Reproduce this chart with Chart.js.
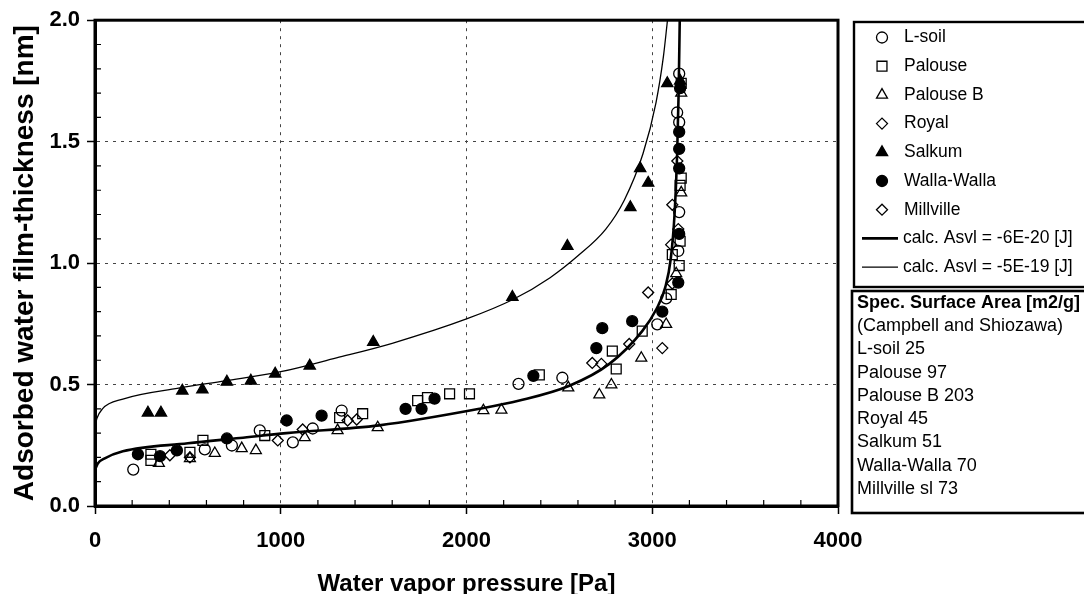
<!DOCTYPE html>
<html>
<head>
<meta charset="utf-8">
<title>Adsorbed water film-thickness</title>
<script src="https://cdn.jsdelivr.net/npm/chart.js@4.4.0/dist/chart.umd.min.js"></script>
<style>
  html, body { margin: 0; padding: 0; background: #fff; }
  #wrap { width: 1084px; height: 594px; }
</style>
</head>
<body>
<div id="wrap"><canvas id="c" width="1084" height="594"></canvas></div>
<script>
const FONT = '"Liberation Sans", Arial, sans-serif';

// axis ticks
const xMajorTicks = [0, 1000, 2000, 3000, 4000];
const yMajorTicks = [0, 0.5, 1.0, 1.5, 2.0];

// measured points [pressure Pa, thickness nm]
const lSoil = [[206,0.15],[591,0.233],[737,0.249],[887,0.311],[1065,0.262],[1172,0.319],[1328,0.393],
  [2280,0.503],[2516,0.528],[3027,0.748],[3075,0.855],[3140,1.05],[3145,1.21],[3145,1.58],[3134,1.62],[3145,1.78]];
const palouse = [[301,0.213],[301,0.188],[511,0.221],[581,0.27],[914,0.29],[1317,0.364],[1441,0.38],[1737,0.434],
  [1790,0.446],[1909,0.462],[2016,0.462],[2392,0.54],[2785,0.638],[2806,0.564],[2946,0.72],[3102,0.871],
  [3108,1.035],[3145,0.99],[3150,1.09],[3150,1.32],[3156,1.35],[3156,1.74]];
const palouseB = [[344,0.176],[511,0.196],[645,0.217],[790,0.237],[866,0.229],[1129,0.282],[1306,0.311],[1522,0.323],
  [2091,0.393],[2188,0.395],[2548,0.487],[2715,0.458],[2780,0.499],[2941,0.609],[3075,0.748],[3129,0.957],
  [3156,1.29],[3156,1.70]];
const royal = [[403,0.209],[984,0.27],[1360,0.352],[2677,0.589],[2876,0.667],[3054,0.65],[3108,0.916],[3108,1.24]];
const salkum = [[285,0.384],[355,0.384],[470,0.474],[578,0.479],[710,0.511],[839,0.515],[970,0.544],[1156,0.577],
  [1498,0.675],[2247,0.86],[2543,1.07],[2882,1.23],[2935,1.39],[2978,1.33],[3081,1.74],[3150,1.75]];
const wallaWalla = [[231,0.213],[350,0.205],[441,0.229],[710,0.278],[1032,0.352],[1220,0.372],[1672,0.40],[1758,0.40],
  [1828,0.442],[2360,0.536],[2699,0.65],[2731,0.732],[2892,0.761],[3054,0.80],[3140,0.92],[3145,1.12],
  [3145,1.39],[3145,1.47],[3145,1.54],[3150,1.72]];
const millville = [[511,0.20],[1118,0.315],[1409,0.356],[2726,0.585],[2978,0.879],[3102,1.076],[3140,1.14],[3135,1.42]];

// calculated curves
const curveA6e20 = [[1,0.15],[15,0.175],[50,0.195],[150,0.225],[500,0.258],[780,0.28],[1030,0.30],[1530,0.332],
  [2070,0.40],[2285,0.434],[2554,0.495],[2769,0.585],[2946,0.72],[3022,0.81],[3070,0.90],[3100,1.02],
  [3120,1.20],[3134,1.45],[3142,1.70],[3148,2.0]];
const curveA5e19 = [[1,0.33],[10,0.36],[40,0.40],[150,0.44],[450,0.485],[700,0.515],[1000,0.553],[1300,0.61],
  [1600,0.67],[2000,0.77],[2250,0.85],[2450,0.94],[2600,1.03],[2750,1.14],[2850,1.26],[2950,1.45],
  [3020,1.66],[3060,1.85],[3082,2.0]];

const curveNames = ['calc. Asvl = -6E-20 [J]', 'calc. Asvl = -5E-19 [J]'];
const areaTitle = 'Spec. Surface Area [m2/g]';
const areaLines = ['(Campbell and Shiozawa)', 'L-soil 25', 'Palouse 97', 'Palouse B 203', 'Royal 45',
  'Salkum 51', 'Walla-Walla 70', 'Millville sl 73'];

const toXY = arr => arr.map(p => ({ x: p[0], y: p[1] }));
const isMajorX = v => xMajorTicks.includes(Math.round(v));
const isMajorY = v => yMajorTicks.some(m => Math.abs(m - v) < 1e-6);

function marker(label, data, style, radius, filled) {
  return {
    label, data: toXY(data), showLine: false,
    pointStyle: style, pointRadius: radius, pointHoverRadius: radius, pointBorderWidth: 1.3,
    borderColor: '#000', backgroundColor: filled ? '#000' : 'rgba(0,0,0,0)'
  };
}
function curve(label, data, width) {
  return {
    label, data: toXY(data), showLine: true, pointRadius: 0, pointHoverRadius: 0,
    borderColor: '#000', borderWidth: width, cubicInterpolationMode: 'monotone', fill: false
  };
}

const datasets = [
  marker('L-soil', lSoil, 'circle', 5.5, false),
  marker('Palouse', palouse, 'rect', 7, false),
  marker('Palouse B', palouseB, 'triangle', 6.3, false),
  marker('Royal', royal, 'rectRot', 5.5, false),
  marker('Salkum', salkum, 'triangle', 6.5, true),
  marker('Walla-Walla', wallaWalla, 'circle', 5.5, true),
  marker('Millville', millville, 'rectRot', 5.5, false),
  curve(curveNames[0], curveA6e20, 2.6),
  curve(curveNames[1], curveA5e19, 1.3)
];

// frame, inward minor ticks, legend and surface-area box
const extras = {
  id: 'extras',
  afterDraw(chart) {
    const { ctx, chartArea: a, scales: { x, y } } = chart;
    ctx.save();
    ctx.strokeStyle = '#000';
    ctx.lineWidth = 1.2;
    ctx.beginPath();
    x.ticks.forEach(t => {
      if (isMajorX(t.value)) return;
      const px = x.getPixelForValue(t.value);
      ctx.moveTo(px, a.bottom); ctx.lineTo(px, a.bottom - 6);
    });
    y.ticks.forEach(t => {
      if (isMajorY(t.value)) return;
      const py = y.getPixelForValue(t.value);
      ctx.moveTo(a.left, py); ctx.lineTo(a.left + 6, py);
    });
    ctx.stroke();

    ctx.lineWidth = 3;
    ctx.strokeRect(a.left, a.top, a.right - a.left, a.bottom - a.top);

    // legend
    const lx = 854, ly = 22, rowH = 28.7, row0 = 37.5;
    ctx.lineWidth = 2.4;
    ctx.strokeRect(lx, ly, 260, 265);
    ctx.font = '17.5px ' + FONT;
    ctx.fillStyle = '#000';
    ctx.textBaseline = 'middle';
    ctx.textAlign = 'left';
    chart.data.datasets.forEach((ds, i) => {
      const cy = row0 + i * rowH;
      if (ds.showLine) {
        ctx.lineWidth = ds.borderWidth;
        ctx.beginPath();
        ctx.moveTo(862, cy); ctx.lineTo(898, cy);
        ctx.stroke();
        ctx.fillText(ds.label, 903, cy);
      } else {
        ctx.fillStyle = ds.backgroundColor;
        ctx.lineWidth = ds.pointBorderWidth;
        Chart.helpers.drawPoint(ctx, {
          pointStyle: ds.pointStyle, radius: ds.pointRadius, rotation: 0, borderWidth: ds.pointBorderWidth
        }, 882, cy);
        ctx.fillStyle = '#000';
        ctx.fillText(ds.label, 904, cy);
      }
    });

    // surface area box
    ctx.lineWidth = 2.6;
    ctx.strokeRect(852, 291, 260, 222);
    ctx.font = 'bold 18px ' + FONT;
    ctx.fillText(areaTitle, 857, 303);
    ctx.font = '18px ' + FONT;
    areaLines.forEach((t, i) => ctx.fillText(t, 857, 326 + i * 23.3));
    ctx.restore();
  }
};

new Chart(document.getElementById('c'), {
  type: 'scatter',
  data: { datasets },
  options: {
    responsive: false,
    animation: false,
    events: [],
    layout: { padding: { left: 0, top: 17, right: 246, bottom: 0 } },
    plugins: { legend: { display: false }, tooltip: { enabled: false } },
    scales: {
      x: {
        type: 'linear', min: 0, max: 4000,
        afterFit: s => { s.height = 88; },
        ticks: {
          stepSize: 200, autoSkip: false, maxRotation: 0, padding: 14, color: '#000',
          font: { family: FONT, size: 22, weight: 'bold' },
          callback: v => isMajorX(v) ? String(v) : ''
        },
        grid: {
          lineWidth: 1, tickLength: 8, tickWidth: 1.5,
          color: c => (c.tick && isMajorX(c.tick.value) && c.tick.value > 0 && c.tick.value < 4000) ? '#444' : 'rgba(0,0,0,0)',
          tickColor: c => (c.tick && isMajorX(c.tick.value)) ? '#000' : 'rgba(0,0,0,0)'
        },
        border: { display: true, color: '#000', width: 3, dash: [3, 5] },
        title: {
          display: true, text: 'Water vapor pressure [Pa]', color: '#000', padding: 0,
          font: { family: FONT, size: 24, weight: 'bold', lineHeight: 0.8 }
        }
      },
      y: {
        type: 'linear', min: 0, max: 2,
        afterFit: s => { s.width = 95; },
        ticks: {
          stepSize: 0.1, autoSkip: false, padding: 7, color: '#000',
          font: { family: FONT, size: 22, weight: 'bold' },
          callback: v => isMajorY(v) ? v.toFixed(1) : ''
        },
        grid: {
          lineWidth: 1, tickLength: 8, tickWidth: 1.5,
          color: c => (c.tick && isMajorY(c.tick.value) && c.tick.value > 0.01 && c.tick.value < 1.99) ? '#444' : 'rgba(0,0,0,0)',
          tickColor: c => (c.tick && isMajorY(c.tick.value)) ? '#000' : 'rgba(0,0,0,0)'
        },
        border: { display: true, color: '#000', width: 3, dash: [3, 5] },
        title: {
          display: true, text: 'Adsorbed water film-thickness [nm]', color: '#000', padding: { top: 11 },
          font: { family: FONT, size: 28, weight: 'bold', lineHeight: 1 }
        }
      }
    }
  },
  plugins: [extras]
});
</script>
</body>
</html>
